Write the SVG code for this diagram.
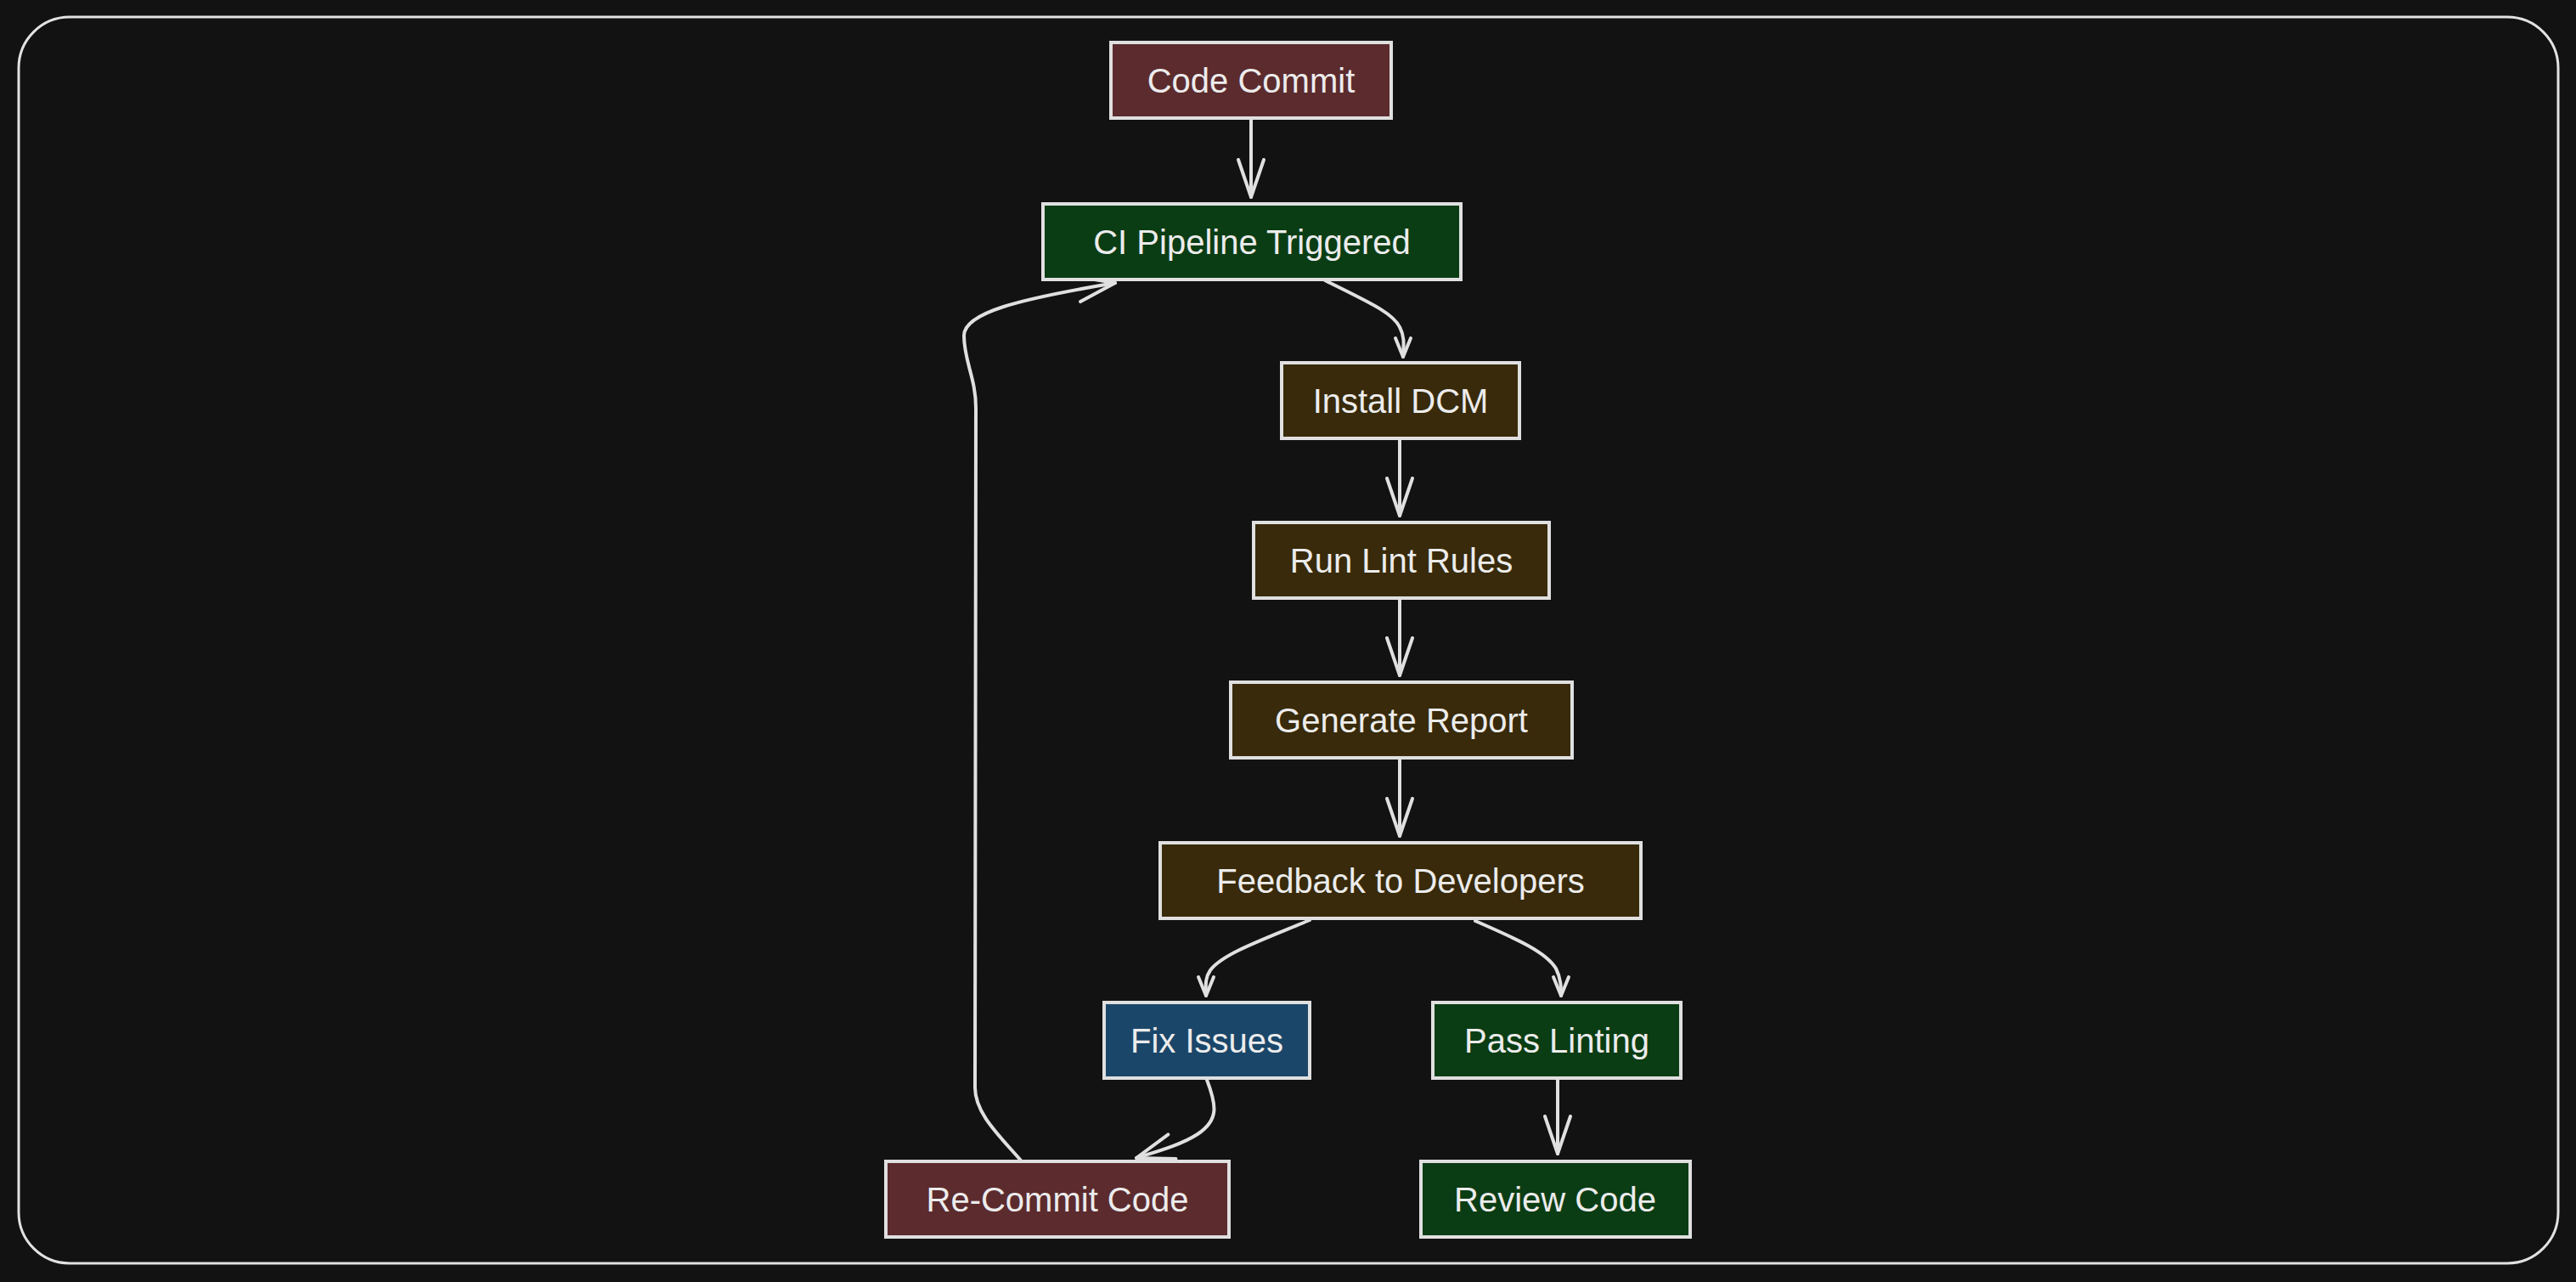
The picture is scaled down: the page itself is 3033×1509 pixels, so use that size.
<svg xmlns="http://www.w3.org/2000/svg" width="3033" height="1509" viewBox="0 0 3033 1509">
<style>
.frame{fill:#121212;stroke:#e2e2e2;stroke-width:3}
.box{stroke:#e0e0e0;stroke-width:4}
.red{fill:#5c2b2e}
.green{fill:#0b3d14}
.brown{fill:#382a0a}
.blue{fill:#1a4669}
.lbl{font-family:"Liberation Sans","Noto Sans",sans-serif;font-size:40px;fill:#ececec;text-anchor:middle}
.edge{fill:none;stroke:#e0e0e0;stroke-width:4;stroke-linecap:round;stroke-linejoin:round}
</style>
<defs>
<marker id="ah" markerUnits="userSpaceOnUse" viewBox="-50 -20 56 40" refX="0" refY="0" markerWidth="56" markerHeight="40" orient="auto" overflow="visible">
<path d="M-44,-15 L0,0 L-44,15" fill="none" stroke="#e0e0e0" stroke-width="4" stroke-linecap="round" stroke-linejoin="round"/>
</marker>
<marker id="ahs" markerUnits="userSpaceOnUse" viewBox="-30 -14 36 28" refX="0" refY="0" markerWidth="36" markerHeight="28" orient="auto" overflow="visible">
<path d="M-22,-9 L0,0 L-22,9" fill="none" stroke="#e0e0e0" stroke-width="4" stroke-linecap="round" stroke-linejoin="round"/>
</marker>
</defs>
<rect x="0" y="0" width="3033" height="1509" fill="#121212"/>
<rect class="frame" x="22" y="20" width="2990" height="1467" rx="60" ry="60"/>
<g id="connectors">
<path class="edge" marker-end="url(#ah)" d="M1473,141 L1473,232"/>
<path class="edge" marker-end="url(#ahs)" d="M1560,330 C1610,355 1640,368 1648,385 C1655,398 1652,410 1652,420"/>
<path class="edge" marker-end="url(#ah)" d="M1648,518 L1648,607"/>
<path class="edge" marker-end="url(#ah)" d="M1648,706 L1648,795"/>
<path class="edge" marker-end="url(#ah)" d="M1648,894 L1648,984"/>
<path class="edge" marker-end="url(#ahs)" d="M1542,1083 C1490,1105 1440,1122 1425,1142 C1418,1152 1420,1162 1420,1172"/>
<path class="edge" marker-end="url(#ahs)" d="M1737,1084 C1785,1105 1820,1120 1832,1140 C1838,1152 1838,1162 1838,1172"/>
<path class="edge" marker-end="url(#ah)" d="M1834,1271 L1834,1358"/>
<path class="edge" marker-end="url(#ah)" d="M1421,1271 C1432,1300 1436,1318 1410,1335 C1390,1348 1360,1356 1338,1363"/>
<path class="edge" marker-end="url(#ah)" d="M1202,1366 C1175,1335 1148,1310 1148,1280 L1149,480 C1149,445 1135,425 1135,395 C1135,368 1200,352 1313,333"/>
</g>
<g id="code-commit"><rect class="box red" x="1308" y="50" width="330" height="89"/><text class="lbl" x="1473" y="109">Code Commit</text></g>
<g id="ci-pipeline"><rect class="box green" x="1228" y="240" width="492" height="89"/><text class="lbl" x="1474" y="299">CI Pipeline Triggered</text></g>
<g id="install-dcm"><rect class="box brown" x="1509" y="427" width="280" height="89"/><text class="lbl" x="1649" y="486">Install DCM</text></g>
<g id="run-lint"><rect class="box brown" x="1476" y="615" width="348" height="89"/><text class="lbl" x="1650" y="674">Run Lint Rules</text></g>
<g id="generate-report"><rect class="box brown" x="1449" y="803" width="402" height="89"/><text class="lbl" x="1650" y="862">Generate Report</text></g>
<g id="feedback"><rect class="box brown" x="1366" y="992" width="566" height="89"/><text class="lbl" x="1649" y="1051">Feedback to Developers</text></g>
<g id="fix-issues"><rect class="box blue" x="1300" y="1180" width="242" height="89"/><text class="lbl" x="1421" y="1239">Fix Issues</text></g>
<g id="pass-linting"><rect class="box green" x="1687" y="1180" width="292" height="89"/><text class="lbl" x="1833" y="1239">Pass Linting</text></g>
<g id="re-commit"><rect class="box red" x="1043" y="1367" width="404" height="89"/><text class="lbl" x="1245" y="1426">Re-Commit Code</text></g>
<g id="review-code"><rect class="box green" x="1673" y="1367" width="317" height="89"/><text class="lbl" x="1831" y="1426">Review Code</text></g>
</svg>
